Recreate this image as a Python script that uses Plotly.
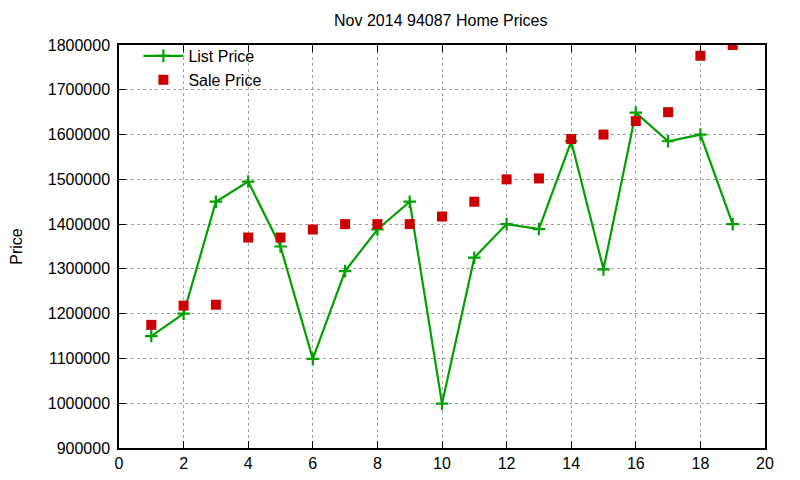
import plotly.graph_objects as go

# listing index 1..19, prices
homes = list(range(1, 20))
list_price = [1150000, 1200000, 1450000, 1495000, 1350000, 1099000, 1295000,
              1388000, 1450000, 999000, 1325000, 1400000, 1389000, 1585000,
              1299000, 1649000, 1585000, 1600000, 1400000]
sale_price = [1175000, 1218000, 1220000, 1370000, 1370000, 1388000, 1400000,
              1400000, 1400000, 1417000, 1450000, 1500000, 1502000, 1590000,
              1600000, 1630000, 1650000, 1776000, 1800000]

x_ticks = list(range(0, 21, 2))
y_ticks = list(range(900000, 1800001, 100000))

font = dict(family="Liberation Sans, Arial, sans-serif", size=16, color="#000000")

fig = go.Figure()
fig.add_trace(go.Scatter(
    x=homes, y=list_price, name="List Price", mode="lines+markers",
    line=dict(color="#00a000", width=2.2),
    marker=dict(symbol="cross-thin", size=9, line=dict(color="#00a000", width=2.2)),
))
fig.add_trace(go.Scatter(
    x=homes, y=sale_price, name="Sale Price", mode="markers",
    marker=dict(symbol="square", size=10, color="#cc0000"),
))

axis = dict(
    showline=True, linecolor="black", linewidth=1.5, mirror="ticks",
    ticks="inside", ticklen=7, tickcolor="black", tickwidth=1,
    showgrid=True, gridcolor="#a0a0a0", griddash="dot", gridwidth=1,
    zeroline=False, tickfont=font, automargin=False,
)

# page body has an 8px margin, so the margins are trimmed to put the
# plot box where the original has it
fig.update_layout(
    width=800, height=480,
    margin=dict(l=111, r=43, t=37, b=40),
    paper_bgcolor="white", plot_bgcolor="white",
    font=font,
    title=dict(text="Nov 2014 94087 Home Prices", x=0.541, xanchor="center",
               y=0.975, yanchor="middle", font=dict(size=16)),
    xaxis=dict(axis, range=[0, 20], tickvals=x_ticks),
    yaxis=dict(axis, range=[900000, 1800000], tickvals=y_ticks,
               tickformat="d", ticklabelstandoff=4,
               title=dict(text="Price", standoff=27, font=font)),
    legend=dict(x=0.03, y=1.015, xanchor="left", yanchor="top",
                bgcolor="rgba(0,0,0,0)", font=font, tracegroupgap=0,
                itemwidth=40),
    showlegend=True,
)

fig.write_html("out.html")
